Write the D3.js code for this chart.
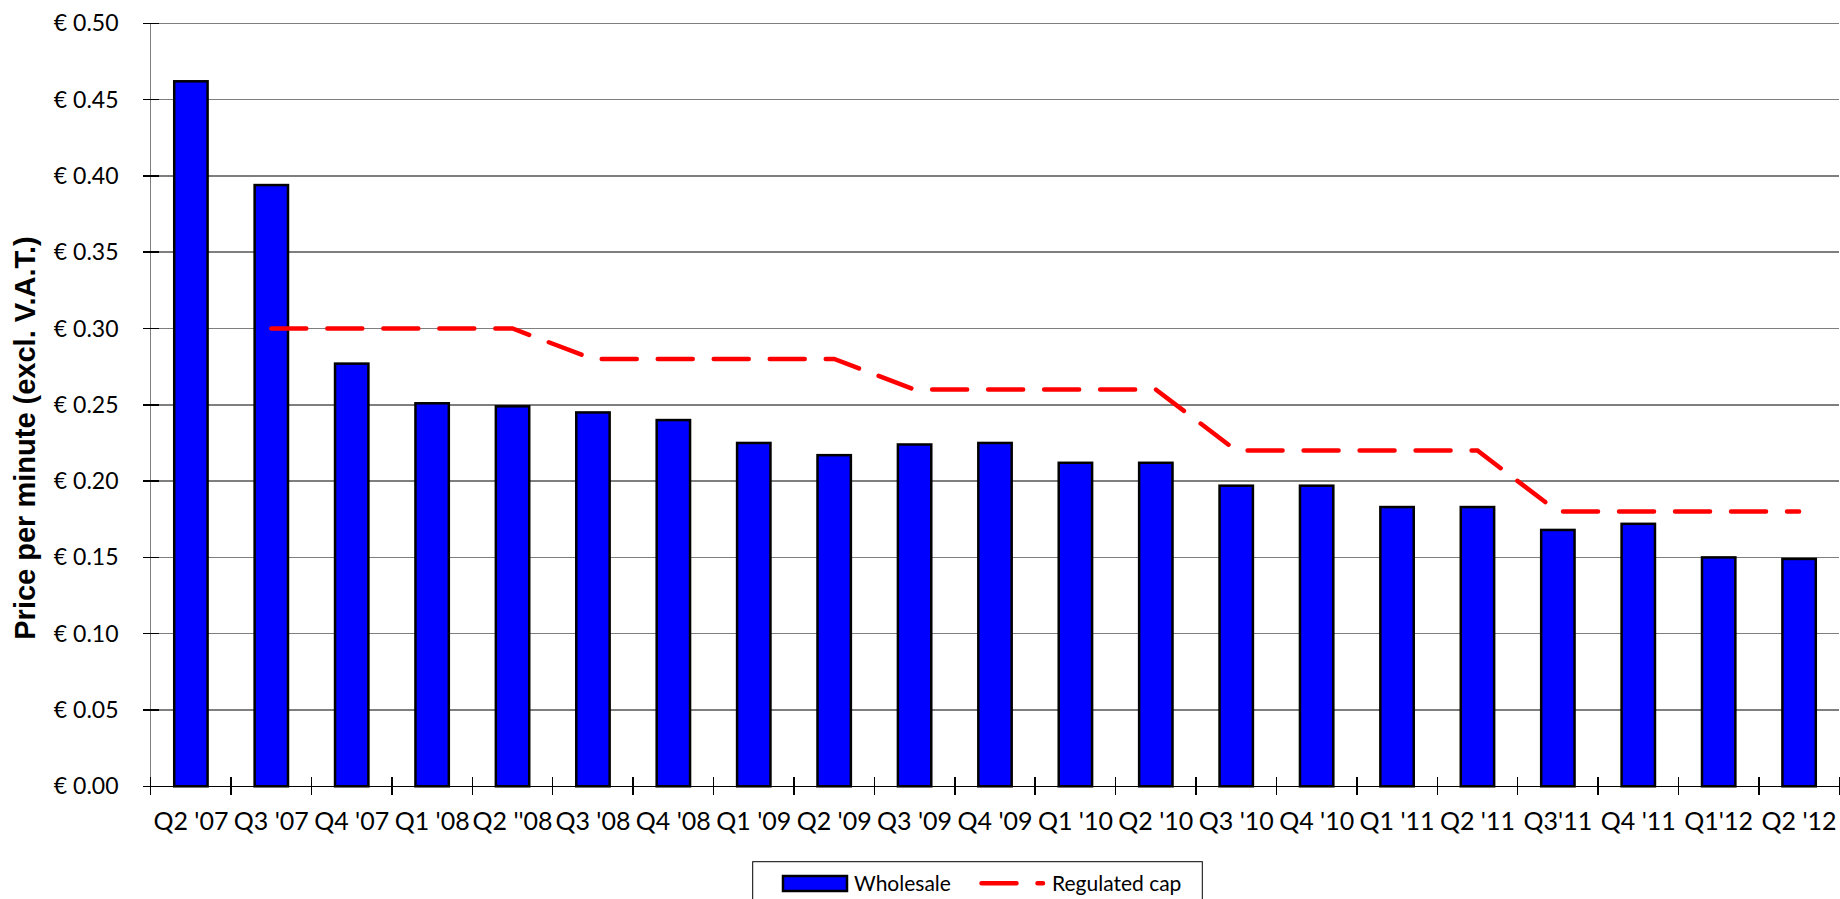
<style>

body {
  margin: 0;
  background: #fff;
}

svg {
  font-family: Lato, "Open Sans", sans-serif;
}

.grid line {
  stroke: #7f7f7f;
  stroke-width: 1.5px;
  shape-rendering: crispEdges;
}

.tick-mark {
  stroke: #000;
  stroke-width: 1.5px;
  shape-rendering: crispEdges;
}

.bar {
  fill: #0000ff;
  stroke: #000;
  stroke-width: 2.5px;
}

.cap {
  fill: none;
  stroke: #ff0000;
  stroke-width: 4.5px;
  stroke-linecap: round;
  stroke-dasharray: 35, 21;
}

.ylabel {
  font-family: "Liberation Sans", Arial, sans-serif;
  font-weight: bold;
  font-size: 29px;
}

</style>
<svg width="1840" height="899"></svg>
<script src="https://d3js.org/d3.v7.min.js"></script>
<script>

var quarters = ["Q2 '07", "Q3 '07", "Q4 '07", "Q1 '08", "Q2 ''08", "Q3 '08", "Q4 '08",
  "Q1 '09", "Q2 '09", "Q3 '09", "Q4 '09", "Q1 '10", "Q2 '10", "Q3 '10", "Q4 '10",
  "Q1 '11", "Q2 '11", "Q3'11", "Q4 '11", "Q1'12", "Q2 '12"];

var wholesale = [0.462, 0.394, 0.277, 0.251, 0.249, 0.245, 0.240,
  0.225, 0.217, 0.224, 0.225, 0.212, 0.212, 0.197, 0.197,
  0.183, 0.183, 0.168, 0.172, 0.150, 0.149];

// no cap in the first quarter
var regulatedCap = [null, 0.30, 0.30, 0.30, 0.30, 0.28, 0.28,
  0.28, 0.28, 0.26, 0.26, 0.26, 0.26, 0.22, 0.22,
  0.22, 0.22, 0.18, 0.18, 0.18, 0.18];

var yTicks = [0, 0.05, 0.10, 0.15, 0.20, 0.25, 0.30, 0.35, 0.40, 0.45, 0.50];

var drawChart = function() {

  var svg = d3.select("svg");

  var plotLeft = 150.7, plotRight = 1839.3, plotTop = 23.3, plotBottom = 786.3;

  var x = d3.scaleBand()
    .domain(quarters)
    .range([plotLeft, plotRight])
    .paddingInner(0)
    .paddingOuter(0);

  var y = d3.scaleLinear()
    .domain([0, 0.5])
    .range([plotBottom, plotTop]);

  var barWidth = x.bandwidth() * 0.415;

  // gridlines
  svg.append("g")
    .attr("class", "grid")
    .selectAll("line")
    .data(yTicks.slice(1))
    .enter().append("line")
    .attr("x1", plotLeft)
    .attr("x2", plotRight)
    .attr("y1", function(d) { return y(d); })
    .attr("y2", function(d) { return y(d); });

  // y axis line
  svg.append("line")
    .attr("x1", plotLeft).attr("x2", plotLeft)
    .attr("y1", plotTop).attr("y2", plotBottom)
    .style("stroke", "#7f7f7f")
    .style("stroke-width", "1.5px")
    .style("shape-rendering", "crispEdges");

  // y ticks cross the axis
  svg.selectAll(".ytick")
    .data(yTicks)
    .enter().append("line")
    .attr("class", "tick-mark ytick")
    .attr("x1", plotLeft - 8)
    .attr("x2", plotLeft + 8)
    .attr("y1", function(d) { return y(d); })
    .attr("y2", function(d) { return y(d); });

  svg.selectAll(".ytext")
    .data(yTicks)
    .enter().append("text")
    .attr("class", "ytext")
    .attr("x", 118.5)
    .attr("y", function(d) { return y(d); })
    .attr("dy", "0.35em")
    .attr("text-anchor", "end")
    .style("font-size", "23px")
    .text(function(d) { return "\u20ac " + d3.format(".2f")(d); });

  svg.append("text")
    .attr("class", "ylabel")
    .attr("transform", "translate(35,438) rotate(-90)")
    .attr("text-anchor", "middle")
    .text("Price per minute (excl. V.A.T.)");

  // bars
  svg.selectAll(".bar")
    .data(wholesale)
    .enter().append("rect")
    .attr("class", "bar")
    .attr("x", function(d, i) { return x(quarters[i]) + (x.bandwidth() - barWidth) / 2; })
    .attr("width", barWidth)
    .attr("y", function(d) { return y(d); })
    .attr("height", function(d) { return y(0) - y(d); });

  // x axis line
  svg.append("line")
    .attr("x1", plotLeft).attr("x2", plotRight)
    .attr("y1", plotBottom).attr("y2", plotBottom)
    .style("stroke", "#000")
    .style("stroke-width", "1.5px")
    .style("shape-rendering", "crispEdges");

  var boundaries = quarters.map(function(q) { return x(q); }).concat([plotRight]);

  svg.selectAll(".xtick")
    .data(boundaries)
    .enter().append("line")
    .attr("class", "tick-mark xtick")
    .attr("x1", function(d) { return d; })
    .attr("x2", function(d) { return d; })
    .attr("y1", plotBottom - 9)
    .attr("y2", plotBottom + 9);

  svg.selectAll(".xtext")
    .data(quarters)
    .enter().append("text")
    .attr("class", "xtext")
    .attr("x", function(d) { return x(d) + x.bandwidth() / 2; })
    .attr("y", 830)
    .attr("text-anchor", "middle")
    .style("font-size", "25px")
    .text(function(d) { return d; });

  // regulated cap line
  var line = d3.line()
    .defined(function(d) { return d != null; })
    .x(function(d, i) { return x(quarters[i]) + x.bandwidth() / 2; })
    .y(function(d) { return y(d); });

  svg.append("path")
    .datum(regulatedCap)
    .attr("class", "cap")
    .attr("d", line);

  // legend
  var legend = svg.append("g").attr("class", "legend");

  legend.append("rect")
    .attr("x", 752.7)
    .attr("y", 861.7)
    .attr("width", 449.6)
    .attr("height", 60)
    .style("fill", "#fff")
    .style("stroke", "#000")
    .style("stroke-width", "1px");

  legend.append("rect")
    .attr("class", "bar")
    .attr("x", 783)
    .attr("y", 876)
    .attr("width", 64)
    .attr("height", 15);

  legend.append("text")
    .attr("x", 854)
    .attr("y", 891)
    .style("font-size", "21px")
    .text("Wholesale");

  legend.append("line")
    .attr("class", "cap")
    .attr("x1", 981.5)
    .attr("x2", 1043)
    .attr("y1", 883.3)
    .attr("y2", 883.3);

  legend.append("text")
    .attr("x", 1052)
    .attr("y", 891)
    .style("font-size", "21px")
    .text("Regulated cap");

};

drawChart();

</script>
